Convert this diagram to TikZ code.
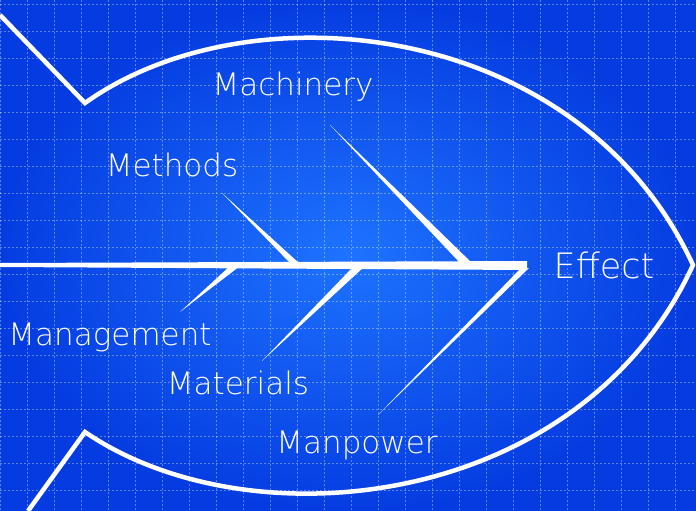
\documentclass[tikz,border=0pt]{standalone}
\usepackage{fontspec}
\setmainfont{DejaVu Sans ExtraLight}
\begin{document}
\begin{tikzpicture}[x=1pt,y=-1pt,
  lab/.style={text=white,font=\fontsize{31}{33}\selectfont,inner sep=0pt},
  bone/.style={fill=white,draw=none},
  fish/.style={draw=white,line width=4.5pt,line join=miter}]
\useasboundingbox (0,0) rectangle (696,511);
\shade[inner color={rgb,255:red,30;green,115;blue,255},outer color={rgb,255:red,5;green,60;blue,225}] (0,0) rectangle (696,511);
\foreach \x in {0,27,...,696} \draw[white,opacity=0.35,dash pattern=on 2pt off 2pt,line width=0.8pt] (\x,0) -- (\x,511);
\foreach \y in {4,31,...,511} \draw[white,opacity=0.35,dash pattern=on 2pt off 2pt,line width=0.8pt] (0,\y) -- (696,\y);
% fish outline
\coordinate (t1) at (0,15);
\coordinate (k1) at (85,103);
\coordinate (tip) at (693,265);
\coordinate (k2) at (85,432);
\coordinate (t2) at (28,511);
\draw[fish] (t1) -- (k1) .. controls (250,-15) and (580,20) .. (tip)
  .. controls (580,510) and (250,545) .. (k2) -- (t2);
% spine
\fill[bone] (0,263) -- (527,261) -- (527,270) -- (0,267) -- cycle;
\fill[bone] (521,268) -- (529,268) -- (378,415) -- cycle;
% upper bones
\fill[bone] (330,125) -- (461,264) -- (473,264) -- cycle;
\fill[bone] (222,193) -- (291,264) -- (300,264) -- cycle;
% lower bones
\fill[bone] (230,266) -- (240,266) -- (180,312) -- cycle;
\fill[bone] (354,266) -- (365,266) -- (262,361) -- cycle;
% labels
\node[lab] (mach) at (293,87) {Machinery};
\node[lab] (meth) at (172,165) {Methods};
\node[lab,font=\fontsize{35}{37}\selectfont] (eff) at (604,265) {Effect};
\node[lab] (mgmt) at (110,337) {Management};
\node[lab] (mat) at (238,383) {Materials};
\node[lab] (man) at (357,445) {Manpower};
\end{tikzpicture}
\end{document}
